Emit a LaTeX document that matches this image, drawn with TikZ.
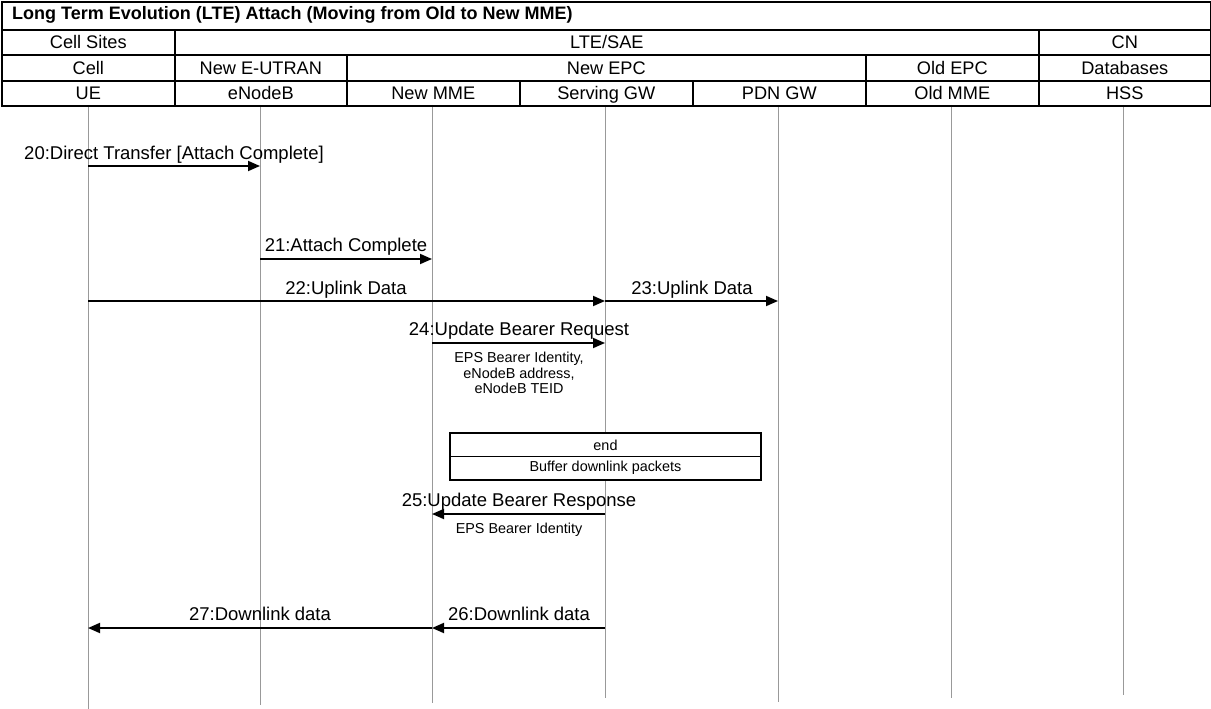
\documentclass[tikz,border=0pt]{standalone}
\usepackage{fontspec}
\setmainfont{Liberation Sans}
\usetikzlibrary{arrows.meta}
\begin{document}
\begin{tikzpicture}[x=1pt,y=-1pt,
  hdr/.style={draw=black,line width=1.6pt,minimum height=25.5pt,inner sep=0pt,text height=14pt,text depth=2pt,font=\fontsize{18.2}{20}\selectfont,anchor=north west},
  life/.style={draw=black!40,line width=0.8pt},
  msg/.style={draw=black,line width=1.8pt,-{Triangle[length=12pt,width=10pt]}},
  lbl/.style={font=\fontsize{18.5}{20}\selectfont,inner sep=0pt,anchor=base},
  note/.style={font=\fontsize{14.4}{15.5}\selectfont,inner sep=0pt,align=center,anchor=north},
  boxs/.style={draw=black,line width=1.6pt}]
\useasboundingbox (0,0) rectangle (1211,709);
\fill[white] (0,0) rectangle (1211,709);
% lifelines
\coordinate (ue) at (88,105);   \coordinate (ueb) at (88,709);
\coordinate (enb) at (260,105); \coordinate (enbb) at (260,705);
\coordinate (mme) at (432,105); \coordinate (mmeb) at (432,703);
\coordinate (sgw) at (605,105); \coordinate (sgwb) at (605,698);
\coordinate (pgw) at (778,105); \coordinate (pgwb) at (778,702);
\coordinate (omme) at (951,105);\coordinate (ommeb) at (951,698);
\coordinate (hss) at (1123,105);\coordinate (hssb) at (1123,695);
\foreach \a/\b in {ue/ueb,enb/enbb,mme/mmeb,sgw/sgwb,pgw/pgwb,omme/ommeb,hss/hssb}
  \draw[life] (\a) -- (\b);
% header
\node[hdr,minimum width=1209pt,minimum height=28pt] (title) at (1,1) {};
\node[font=\bfseries\fontsize{18}{20}\selectfont,anchor=west,inner sep=0pt] (titletxt) at (12,15) {Long Term Evolution (LTE) Attach (Moving from Old to New MME)};
\node[hdr,minimum width=173pt] (cs) at (1,29) {Cell Sites};
\node[hdr,minimum width=864pt] (lte) at (174,29) {LTE/SAE};
\node[hdr,minimum width=172pt] (cn) at (1038,29) {CN};
\node[hdr,minimum width=173pt] (cell) at (1,54.5) {Cell};
\node[hdr,minimum width=172pt] (eutran) at (174,54.5) {New E-UTRAN};
\node[hdr,minimum width=519pt] (nepc) at (346,54.5) {New EPC};
\node[hdr,minimum width=173pt] (oepc) at (865,54.5) {Old EPC};
\node[hdr,minimum width=172pt] (db) at (1038,54.5) {Databases};
\node[hdr,minimum width=173pt] (hue) at (1,80) {UE};
\node[hdr,minimum width=172pt] (henb) at (174,80) {eNodeB};
\node[hdr,minimum width=173pt] (hmme) at (346,80) {New MME};
\node[hdr,minimum width=173pt] (hsgw) at (519,80) {Serving GW};
\node[hdr,minimum width=173pt] (hpgw) at (692,80) {PDN GW};
\node[hdr,minimum width=173pt] (homme) at (865,80) {Old MME};
\node[hdr,minimum width=172pt] (hhss) at (1038,80) {HSS};
% messages
\draw[msg] (ue |- 0,166) -- (enb |- 0,166);
\node[lbl] (l20) at (174,159.5) {20:Direct Transfer [Attach Complete]};
\draw[msg] (enb |- 0,259) -- (mme |- 0,259);
\node[lbl] (l21) at (346,251.5) {21:Attach Complete};
\draw[msg] (ue |- 0,301) -- (sgw |- 0,301);
\node[lbl] (l22) at (346,294.5) {22:Uplink Data};
\draw[msg] (sgw |- 0,301) -- (pgw |- 0,301);
\node[lbl] (l23) at (692,294.5) {23:Uplink Data};
\draw[msg] (mme |- 0,343) -- (sgw |- 0,343);
\node[lbl] (l24) at (519,335.5) {24:Update Bearer Request};
\node[note] (n24) at (519,352) {EPS Bearer Identity,\\eNodeB address,\\eNodeB TEID};
% box
\draw[boxs,fill=white] (450,433) rectangle (761,480);
\draw[line width=1pt] (450,456) -- (761,456);
\node[font=\fontsize{14.4}{15}\selectfont,inner sep=0pt] (bend) at (605.5,445) {end};
\node[font=\fontsize{14.4}{15}\selectfont,inner sep=0pt] (bbuf) at (605.5,468) {Buffer downlink packets};
\draw[msg] (sgw |- 0,514) -- (mme |- 0,514);
\node[lbl] (l25) at (519,506.5) {25:Update Bearer Response};
\node[note] (n25) at (519,523) {EPS Bearer Identity};
\draw[msg] (sgw |- 0,628) -- (mme |- 0,628);
\node[lbl] (l26) at (519,620.5) {26:Downlink data};
\draw[msg] (mme |- 0,628) -- (ue |- 0,628);
\node[lbl] (l27) at (260,620.5) {27:Downlink data};
\end{tikzpicture}
\end{document}
